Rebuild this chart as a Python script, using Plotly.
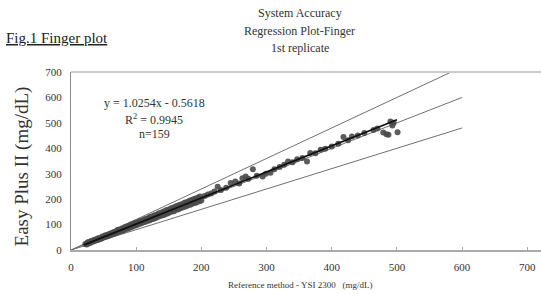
import plotly.graph_objects as go

# ---- data ----
ref_x = [22, 24, 25, 27, 28, 30, 31, 33, 35, 36, 38, 40, 41, 43, 45, 47, 48, 50, 52, 54,
         55, 57, 59, 60, 62, 64, 66, 67, 69, 71, 72, 74, 76, 78, 79, 81, 83, 85, 86, 88,
         90, 92, 93, 95, 97, 99, 100, 102, 104, 106, 107, 109, 111, 113, 114, 116, 118, 120, 121, 123,
         125, 127, 128, 130, 132, 134, 135, 137, 139, 141, 142, 144, 146, 148, 149, 151, 153, 155, 156, 158,
         160, 162, 163, 165, 167, 169, 170, 172, 174, 176, 177, 179, 181, 183, 184, 186, 188, 190, 191, 193,
         195, 197, 198, 200,
         26, 34, 44, 58, 73, 87, 101, 119, 140,
         205, 210, 215, 220, 225, 230, 238, 245, 252, 258, 263, 268, 272, 279, 285, 294, 299, 306, 312, 320,
         327, 333, 340, 347, 355, 362, 367, 375, 383, 390, 400, 410, 418, 425, 431, 440, 450, 464, 470, 479,
         484, 487, 490, 493, 495, 501]
meter_y = [24, 22, 28, 26, 31, 29, 35, 32, 34, 40, 37, 44, 39, 47, 44, 45, 53, 49, 57, 52,
           59, 55, 63, 58, 67, 62, 71, 65, 74, 69, 80, 72, 82, 75, 86, 78, 90, 83, 93, 85,
           97, 89, 101, 92, 105, 96, 108, 99, 111, 103, 115, 106, 118, 110, 122, 113, 125, 116, 130, 120,
           133, 123, 137, 126, 140, 131, 145, 134, 147, 137, 151, 140, 156, 144, 158, 147, 163, 151, 166, 152,
           170, 158, 174, 160, 178, 165, 180, 168, 186, 171, 188, 175, 193, 178, 196, 182, 200, 185, 203, 188,
           206, 192, 210, 195,
           30, 37, 42, 61, 76, 90, 104, 121, 144,
           212, 218, 222, 230, 249, 236, 245, 263, 269, 262, 282, 289, 280, 318, 292, 289, 300, 304, 318, 326,
           335, 348, 345, 357, 362, 348, 381, 380, 394, 398, 407, 418, 444, 432, 446, 450, 460, 472, 478, 462,
           455, 453, 505, 490, 500, 463]

slope = 1.0254
intercept = -0.5618
r2 = 0.9945
n_points = 159

limit_x = [0, 600]
limit_factors = [1.2, 1.0, 0.8]
fit_x = [20, 500]

x_ticks = [0, 100, 200, 300, 400, 500, 600, 700]
y_ticks = [0, 100, 200, 300, 400, 500, 600, 700]

title_lines = ["System Accuracy", "Regression Plot-Finger", "1st replicate"]
fig_label = "Fig.1 Finger plot"
x_title = "Reference method - YSI 2300\u00a0\u00a0 (mg/dL)"
y_title = "Easy Plus II (mg/dL)"

SERIF = "Liberation Serif, Times New Roman, serif"

fig = go.Figure()

for f in limit_factors:
    fig.add_trace(go.Scatter(x=limit_x, y=[v * f for v in limit_x], mode="lines",
                             line=dict(color="#707070", width=1), hoverinfo="skip",
                             showlegend=False))

fig.add_trace(go.Scatter(x=ref_x, y=meter_y, mode="markers",
                         marker=dict(color="#4a4a4a", size=6, opacity=0.9),
                         showlegend=False))

fig.add_trace(go.Scatter(x=fit_x, y=[slope * v + intercept for v in fit_x], mode="lines",
                         line=dict(color="#111111", width=1.8), showlegend=False))

fig.update_layout(
    width=541, height=294,
    margin=dict(l=71, r=0, t=72, b=44),
    paper_bgcolor="white", plot_bgcolor="white",
    font=dict(family=SERIF, color="#333333"),
    xaxis=dict(range=[0, 721], tickvals=x_ticks, showgrid=False, zeroline=False,
               showline=True, linecolor="#aaaaaa", linewidth=2,
               ticks="inside", ticklen=3, tickcolor="#aaaaaa", ticklabelstandoff=6,
               tickfont=dict(family=SERIF, size=11, color="#333333")),
    yaxis=dict(range=[0, 700], tickvals=y_ticks, showgrid=False, zeroline=False,
               showline=True, linecolor="#8a8a8a", linewidth=1,
               ticks="", ticklabelstandoff=6,
               tickfont=dict(family=SERIF, size=11, color="#333333")),
    shapes=[dict(type="line", xref="paper", yref="paper", x0=0, x1=1, y0=1, y1=1,
                 line=dict(color="#cccccc", width=2))],
)

ann = []
for i, t in enumerate(title_lines):
    ann.append(dict(text=t, xref="paper", yref="paper", x=0.487, y=1.331 - i * 0.099,
                    xanchor="center", yanchor="middle", showarrow=False,
                    font=dict(family=SERIF, size=12, color="#333333")))
ann.append(dict(text="<u>" + fig_label + "</u>", xref="paper", yref="paper", x=-0.142, y=1.19,
                xanchor="left", yanchor="middle", showarrow=False,
                font=dict(family=SERIF, size=15, color="#222222")))
ann.append(dict(text=y_title, xref="paper", yref="paper", x=-0.104, y=0.47, textangle=-90,
                xanchor="center", yanchor="middle", showarrow=False,
                font=dict(family=SERIF, size=19, color="#333333")))
ann.append(dict(text=x_title, xref="paper", yref="paper", x=0.487, y=-0.197,
                xanchor="center", yanchor="middle", showarrow=False,
                font=dict(family=SERIF, size=9, color="#333333")))
eq_lines = [f"y = {slope}x - {abs(intercept)}", f"R<sup>2</sup> = {r2}", f"n={n_points}"]
eq_y = [579, 515, 458]
for t, yy in zip(eq_lines, eq_y):
    ann.append(dict(text=t, x=128, y=yy, xref="x", yref="y", xanchor="center",
                    yanchor="middle", showarrow=False,
                    font=dict(family=SERIF, size=12, color="#333333")))
fig.update_layout(annotations=ann)

fig.write_html("out.html",
               config={"displayModeBar": False},
               post_script="document.body.style.margin='0';"
                           "document.body.style.overflow='hidden';")
